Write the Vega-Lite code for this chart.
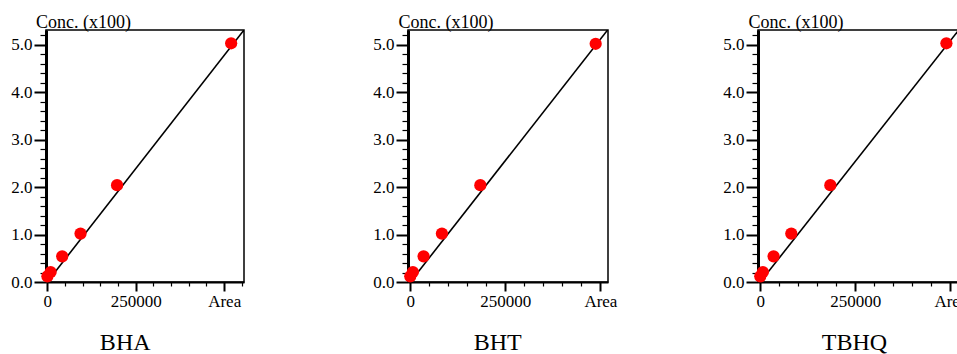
{
  "$schema": "https://vega.github.io/schema/vega-lite/v6.json",
  "padding": {"left": 10, "top": 12, "right": 0, "bottom": 0},
  "bounds": "flush",
  "spacing": 164,
  "datasets": {
    "points": [
      {"panel": "BHA", "area": 500, "conc": 0.12},
      {"panel": "BHA", "area": 9600, "conc": 0.21},
      {"panel": "BHA", "area": 42300, "conc": 0.54},
      {"panel": "BHA", "area": 94100, "conc": 1.02},
      {"panel": "BHA", "area": 197300, "conc": 2.04},
      {"panel": "BHA", "area": 519700, "conc": 5.03},
      {"panel": "BHT", "area": 0, "conc": 0.12},
      {"panel": "BHT", "area": 6800, "conc": 0.21},
      {"panel": "BHT", "area": 35000, "conc": 0.54},
      {"panel": "BHT", "area": 83200, "conc": 1.02},
      {"panel": "BHT", "area": 184200, "conc": 2.04},
      {"panel": "BHT", "area": 487600, "conc": 5.02},
      {"panel": "TBHQ", "area": 0, "conc": 0.12},
      {"panel": "TBHQ", "area": 6800, "conc": 0.21},
      {"panel": "TBHQ", "area": 35000, "conc": 0.54},
      {"panel": "TBHQ", "area": 81600, "conc": 1.02},
      {"panel": "TBHQ", "area": 184200, "conc": 2.04},
      {"panel": "TBHQ", "area": 489500, "conc": 5.03}
    ],
    "fit": [
      {"panel": "BHA", "area": 0, "conc": 0},
      {"panel": "BHA", "area": 556000, "conc": 5.31},
      {"panel": "BHT", "area": 0, "conc": 0},
      {"panel": "BHT", "area": 519000, "conc": 5.31},
      {"panel": "TBHQ", "area": 0, "conc": 0},
      {"panel": "TBHQ", "area": 522000, "conc": 5.31}
    ]
  },
  "config": {
    "font": "Liberation Serif",
    "view": {"stroke": "black", "strokeWidth": 1.5},
    "axis": {
      "grid": false,
      "domainColor": "black",
      "tickColor": "black",
      "labelColor": "black",
      "titleColor": "black",
      "labelFont": "Liberation Serif",
      "titleFont": "Liberation Serif",
      "labelFontSize": 17,
      "labelPadding": 2,
      "labelOverlap": false,
      "labelFlush": false,
      "titleFontWeight": "normal"
    }
  },
  "hconcat": [
    {
      "width": 198,
      "height": 252,
      "encoding": {
        "x": {"field": "area", "type": "quantitative",
          "scale": {"domain": [-3500, 556000], "nice": false, "zero": false},
          "axis": {
            "values": [0, 50000, 100000, 150000, 200000, 250000, 300000, 350000, 400000, 450000, 500000, 550000],
            "labelExpr": "datum.value === 0 ? '0' : datum.value === 250000 ? '250000' : datum.value === 500000 ? 'Area' : ''",
            "labelFont": "Liberation Serif", "labelFontSize": 17,
            "tickSize": {"condition": {"test": "datum.value % 250000 === 0", "value": 9}, "value": 4},
            "tickWidth": {"condition": {"test": "datum.value % 250000 === 0", "value": 2}, "value": 1.2},
            "domainWidth": 2,
            "title": "BHA", "titleFont": "Liberation Serif", "titleX": 78.7, "titleY": 67.6, "titleAlign": "center", "titleBaseline": "alphabetic", "titleFontSize": 24
          }
        },
        "y": {"field": "conc", "type": "quantitative",
          "scale": {"domain": [0, 5.31], "nice": false, "zero": false},
          "axis": {
            "values": [0, 0.2, 0.4, 0.6, 0.8, 1, 1.2, 1.4, 1.6, 1.8, 2, 2.2, 2.4, 2.6, 2.8, 3, 3.2, 3.4, 3.6, 3.8, 4, 4.2, 4.4, 4.6, 4.8, 5, 5.2],
            "labelExpr": "abs(datum.value - round(datum.value)) < 0.001 ? format(datum.value, '.1f') : ''",
            "labelFont": "Liberation Serif", "labelFontSize": 17,
            "tickSize": {"condition": {"test": "abs(datum.value - round(datum.value)) < 0.001", "value": 12}, "value": 6},
            "tickWidth": {"condition": {"test": "abs(datum.value - round(datum.value)) < 0.001", "value": 2}, "value": 1.2},
            "domainWidth": 3,
            "title": "Conc. (x100)", "titleFont": "Liberation Serif", "titleAngle": 0, "titleAlign": "left", "titleBaseline": "alphabetic", "titleX": -10.5, "titleY": -3, "titleFontSize": 18
          }
        }
      },
      "layer": [
        {"data": {"name": "fit"}, "transform": [{"filter": "datum.panel === 'BHA'"}],
          "mark": {"type": "line", "color": "black", "strokeWidth": 1.6, "clip": true}},
        {"data": {"name": "points"}, "transform": [{"filter": "datum.panel === 'BHA'"}],
          "mark": {"type": "circle", "color": "#ff0000", "size": 150, "opacity": 1}}
      ]
    },
    {
      "bounds": "flush",
      "spacing": 150,
      "hconcat": [
        {
          "width": 200,
          "height": 252,
          "encoding": {
            "x": {"field": "area", "type": "quantitative",
              "scale": {"domain": [-6000, 520000], "nice": false, "zero": false},
              "axis": {
                "values": [0, 50000, 100000, 150000, 200000, 250000, 300000, 350000, 400000, 450000, 500000],
                "labelExpr": "datum.value === 0 ? '0' : datum.value === 250000 ? '250000' : datum.value === 500000 ? 'Area' : ''",
                "labelFont": "Liberation Serif", "labelFontSize": 17,
                "tickSize": {"condition": {"test": "datum.value % 250000 === 0", "value": 9}, "value": 4},
                "tickWidth": {"condition": {"test": "datum.value % 250000 === 0", "value": 2}, "value": 1.2},
                "domainWidth": 2,
                "title": "BHT", "titleFont": "Liberation Serif", "titleX": 89.2, "titleY": 67.6, "titleAlign": "center", "titleBaseline": "alphabetic", "titleFontSize": 24
              }
            },
            "y": {"field": "conc", "type": "quantitative",
              "scale": {"domain": [0, 5.31], "nice": false, "zero": false},
              "axis": {
                "values": [0, 0.2, 0.4, 0.6, 0.8, 1, 1.2, 1.4, 1.6, 1.8, 2, 2.2, 2.4, 2.6, 2.8, 3, 3.2, 3.4, 3.6, 3.8, 4, 4.2, 4.4, 4.6, 4.8, 5, 5.2],
                "labelExpr": "abs(datum.value - round(datum.value)) < 0.001 ? format(datum.value, '.1f') : ''",
                "labelFont": "Liberation Serif", "labelFontSize": 17,
                "tickSize": {"condition": {"test": "abs(datum.value - round(datum.value)) < 0.001", "value": 12}, "value": 6},
                "tickWidth": {"condition": {"test": "abs(datum.value - round(datum.value)) < 0.001", "value": 2}, "value": 1.2},
                "domainWidth": 3,
                "title": "Conc. (x100)", "titleFont": "Liberation Serif", "titleAngle": 0, "titleAlign": "left", "titleBaseline": "alphabetic", "titleX": -10, "titleY": -3, "titleFontSize": 18
              }
            }
          },
          "layer": [
            {"data": {"name": "fit"}, "transform": [{"filter": "datum.panel === 'BHT'"}],
              "mark": {"type": "line", "color": "black", "strokeWidth": 1.6, "clip": true}},
            {"data": {"name": "points"}, "transform": [{"filter": "datum.panel === 'BHT'"}],
              "mark": {"type": "circle", "color": "#ff0000", "size": 150, "opacity": 1}}
          ]
        },
        {
          "width": 200,
          "height": 252,
          "encoding": {
            "x": {"field": "area", "type": "quantitative",
              "scale": {"domain": [-6000, 520000], "nice": false, "zero": false},
              "axis": {
                "values": [0, 50000, 100000, 150000, 200000, 250000, 300000, 350000, 400000, 450000, 500000],
                "labelExpr": "datum.value === 0 ? '0' : datum.value === 250000 ? '250000' : datum.value === 500000 ? 'Area' : ''",
                "labelFont": "Liberation Serif", "labelFontSize": 17,
                "tickSize": {"condition": {"test": "datum.value % 250000 === 0", "value": 9}, "value": 4},
                "tickWidth": {"condition": {"test": "datum.value % 250000 === 0", "value": 2}, "value": 1.2},
                "domainWidth": 2,
                "title": "TBHQ", "titleFont": "Liberation Serif", "titleX": 96, "titleY": 67.6, "titleAlign": "center", "titleBaseline": "alphabetic", "titleFontSize": 24
              }
            },
            "y": {"field": "conc", "type": "quantitative",
              "scale": {"domain": [0, 5.31], "nice": false, "zero": false},
              "axis": {
                "values": [0, 0.2, 0.4, 0.6, 0.8, 1, 1.2, 1.4, 1.6, 1.8, 2, 2.2, 2.4, 2.6, 2.8, 3, 3.2, 3.4, 3.6, 3.8, 4, 4.2, 4.4, 4.6, 4.8, 5, 5.2],
                "labelExpr": "abs(datum.value - round(datum.value)) < 0.001 ? format(datum.value, '.1f') : ''",
                "labelFont": "Liberation Serif", "labelFontSize": 17,
                "tickSize": {"condition": {"test": "abs(datum.value - round(datum.value)) < 0.001", "value": 12}, "value": 6},
                "tickWidth": {"condition": {"test": "abs(datum.value - round(datum.value)) < 0.001", "value": 2}, "value": 1.2},
                "domainWidth": 3,
                "title": "Conc. (x100)", "titleFont": "Liberation Serif", "titleAngle": 0, "titleAlign": "left", "titleBaseline": "alphabetic", "titleX": -10, "titleY": -3, "titleFontSize": 18
              }
            }
          },
          "layer": [
            {"data": {"name": "fit"}, "transform": [{"filter": "datum.panel === 'TBHQ'"}],
              "mark": {"type": "line", "color": "black", "strokeWidth": 1.6, "clip": true}},
            {"data": {"name": "points"}, "transform": [{"filter": "datum.panel === 'TBHQ'"}],
              "mark": {"type": "circle", "color": "#ff0000", "size": 150, "opacity": 1}}
          ]
        }
      ]
    }
  ]
}
